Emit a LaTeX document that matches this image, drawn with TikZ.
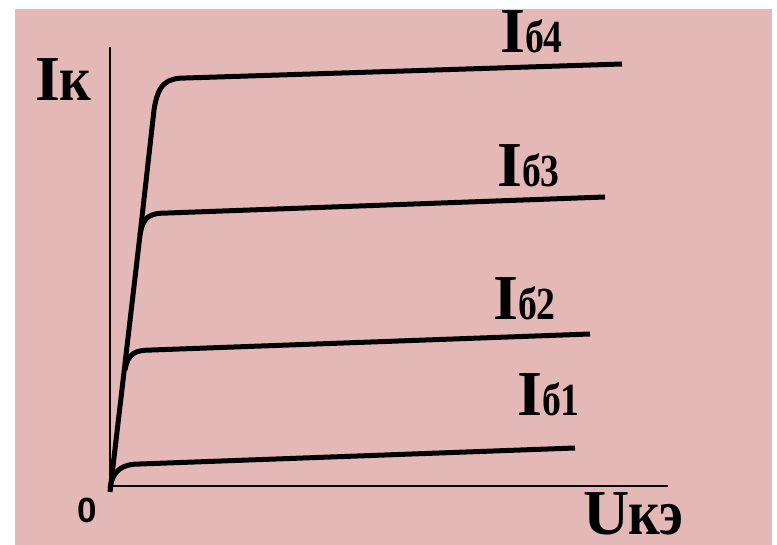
\documentclass[tikz,border=0pt]{standalone}
\usepackage{fontspec}
\setmainfont{Liberation Serif}
\newfontfamily\sansbold{Liberation Sans}[BoldFont={* Bold}]
\definecolor{bgpink}{RGB}{229,184,184}
\newcommand\mysubfont{\fontsize{46}{46}\selectfont\bfseries}
\newcommand\mysub[1]{\scalebox{0.82}[1]{\mysubfont #1}}
\newcommand\mynarrow[1]{\scalebox{0.86}[1]{#1}}
\begin{document}
\begin{tikzpicture}[x=1pt,y=-1pt,
  axisline/.style={line width=1.6pt},
  curve/.style={line width=5pt, line join=round},
  biglabel/.style={anchor=base west, inner sep=0pt, font=\fontsize{64}{64}\selectfont\bfseries}]
\useasboundingbox (0,0) rectangle (777,545);
\fill[white] (0,0) rectangle (777,545);
\fill[bgpink] (15,9) rectangle (772,545);
% axes
\draw[axisline] (110,47) -- (110,486) -- (668,486);
% curves
\draw[curve] (110,492) -- (140,235) -- (154,110) .. controls (158,84) and (166,78) .. (186,78) -- (622,64);
\draw[curve] (140,235) .. controls (143,216) and (150,213) .. (168,213) -- (605,197);
\draw[curve] (125,370) .. controls (128,353) and (135,350) .. (152,350) -- (590,334);
\draw[curve] (110,488) .. controls (113,470) and (122,464) .. (140,464) -- (575,448);
% labels
\node[biglabel] (ik) at (35,101) {I\hspace{-1pt}\mynarrow{к}};
\node[biglabel] (ib4) at (500,53) {I\mysub{б4}};
\node[biglabel] (ib3) at (497,187) {I\mysub{б3}};
\node[biglabel] (ib2) at (493,320) {I\mysub{б2}};
\node[biglabel] (ib1) at (517,416) {I\mysub{б1}};
\node[biglabel] (uke) at (583,534) {U\hspace{-1pt}\mynarrow{кэ}};
\node[anchor=base, inner sep=0pt, font=\sansbold\fontsize{35}{35}\selectfont\bfseries] (zero) at (87,522) {0};
\end{tikzpicture}
\end{document}
